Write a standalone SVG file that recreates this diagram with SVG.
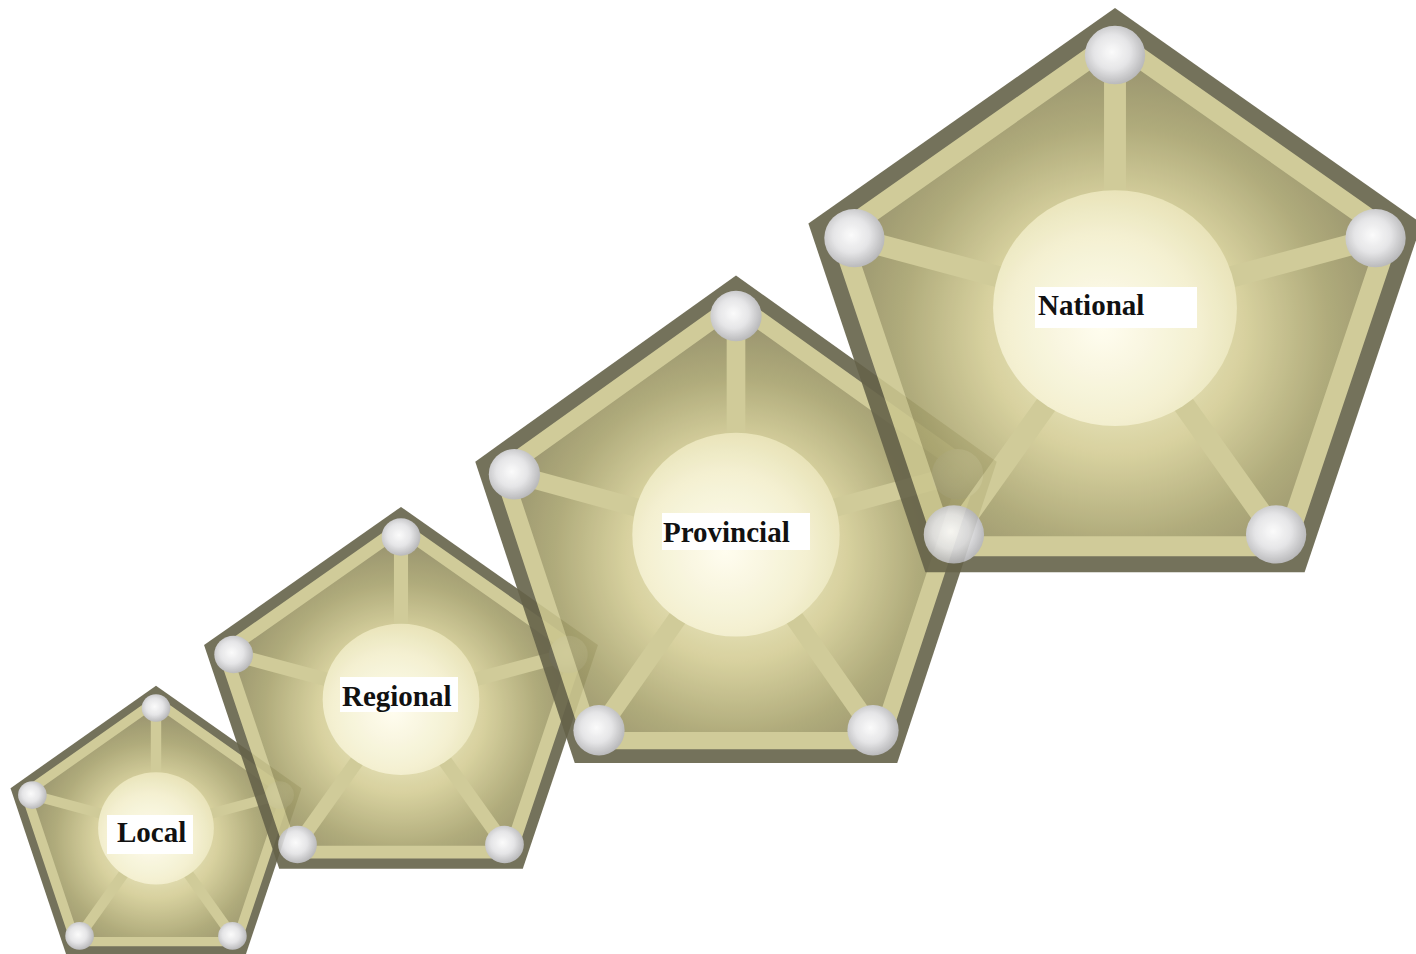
<svg xmlns="http://www.w3.org/2000/svg" width="1416" height="954" viewBox="0 0 1416 954">
  <style>
    .outer { fill: #66634a; }
    .inner { fill: url(#innerGlow); }
    .ring { fill: none; stroke: #cbc68f; stroke-width: 7.5; stroke-linejoin: miter; }
    .spoke { stroke: #cbc68f; stroke-width: 8; }
    .core { fill: url(#coreGrad); }
    .ball { fill: url(#ballGrad); }
    .lbl-bg { fill: #ffffff; }
    .lbl { font-family: "Liberation Serif", "Times New Roman", serif; font-weight: bold; font-size: 29px; fill: #111111; }
  </style>
  <defs>
    <radialGradient id="innerGlow" gradientUnits="userSpaceOnUse" cx="0" cy="6" r="112" fx="0" fy="2">
      <stop offset="0" stop-color="#f8f4d6"/>
      <stop offset="0.42" stop-color="#d4cd95"/>
      <stop offset="0.7" stop-color="#a7a26d"/>
      <stop offset="1" stop-color="#86805b"/>
    </radialGradient>
    <radialGradient id="coreGrad" cx="0.45" cy="0.58" r="0.6">
      <stop offset="0" stop-color="#fffdee"/>
      <stop offset="0.65" stop-color="#f3efcd"/>
      <stop offset="1" stop-color="#e6e0b0"/>
    </radialGradient>
    <radialGradient id="ballGrad" cx="0.45" cy="0.45" r="0.6">
      <stop offset="0" stop-color="#fbfbfb"/>
      <stop offset="0.5" stop-color="#e3e3e5"/>
      <stop offset="1" stop-color="#aaaaac"/>
    </radialGradient>
    <g id="pent">
      <polygon class="outer" points="0,-117.7 111.9,-36.4 69.2,95.2 -69.2,95.2 -111.9,-36.4"/>
      <polygon class="inner" points="0,-105.5 100.3,-32.6 62.0,85.4 -62.0,85.4 -100.3,-32.6"/>
      <polygon class="ring" points="0,-105.5 100.3,-32.6 62.0,85.4 -62.0,85.4 -100.3,-32.6"/>
      <line class="spoke" x1="0" y1="-4.5" x2="0" y2="-100"/>
      <line class="spoke" x1="0" y1="-4.5" x2="95.1" y2="-30.9"/>
      <line class="spoke" x1="0" y1="-4.5" x2="58.8" y2="80.9"/>
      <line class="spoke" x1="0" y1="-4.5" x2="-58.8" y2="80.9"/>
      <line class="spoke" x1="0" y1="-4.5" x2="-95.1" y2="-30.9"/>
      <circle class="core" cx="0" cy="-4.5" r="44.5"/>
      <circle class="ball" cx="0" cy="-100" r="11"/>
      <circle class="ball" cx="95.1" cy="-30.9" r="11"/>
      <circle class="ball" cx="58.8" cy="80.9" r="11"/>
      <circle class="ball" cx="-58.8" cy="80.9" r="11"/>
      <circle class="ball" cx="-95.1" cy="-30.9" r="11"/>
    </g>
  </defs>

  <g id="local">
    <use href="#pent" transform="translate(156 834) scale(1.30 1.26)" opacity="0.9"/>
    <rect class="lbl-bg" x="107" y="815" width="86" height="39"/>
    <text class="lbl" x="117" y="842">Local</text>
  </g>

  <g id="regional">
    <use href="#pent" transform="translate(401 707) scale(1.76 1.70)" opacity="0.9"/>
    <rect class="lbl-bg" x="340" y="677" width="118" height="35"/>
    <text class="lbl" x="342" y="706">Regional</text>
  </g>

  <g id="provincial">
    <use href="#pent" transform="translate(736 545) scale(2.33 2.29)" opacity="0.9"/>
    <rect class="lbl-bg" x="662" y="513" width="148" height="37"/>
    <text class="lbl" x="663" y="542">Provincial</text>
  </g>

  <g id="national">
    <use href="#pent" transform="translate(1115 320) scale(2.74 2.65)" opacity="0.9"/>
    <rect class="lbl-bg" x="1035" y="287" width="162" height="41"/>
    <text class="lbl" x="1038" y="315">National</text>
  </g>

  <g id="connectors"/>
</svg>
